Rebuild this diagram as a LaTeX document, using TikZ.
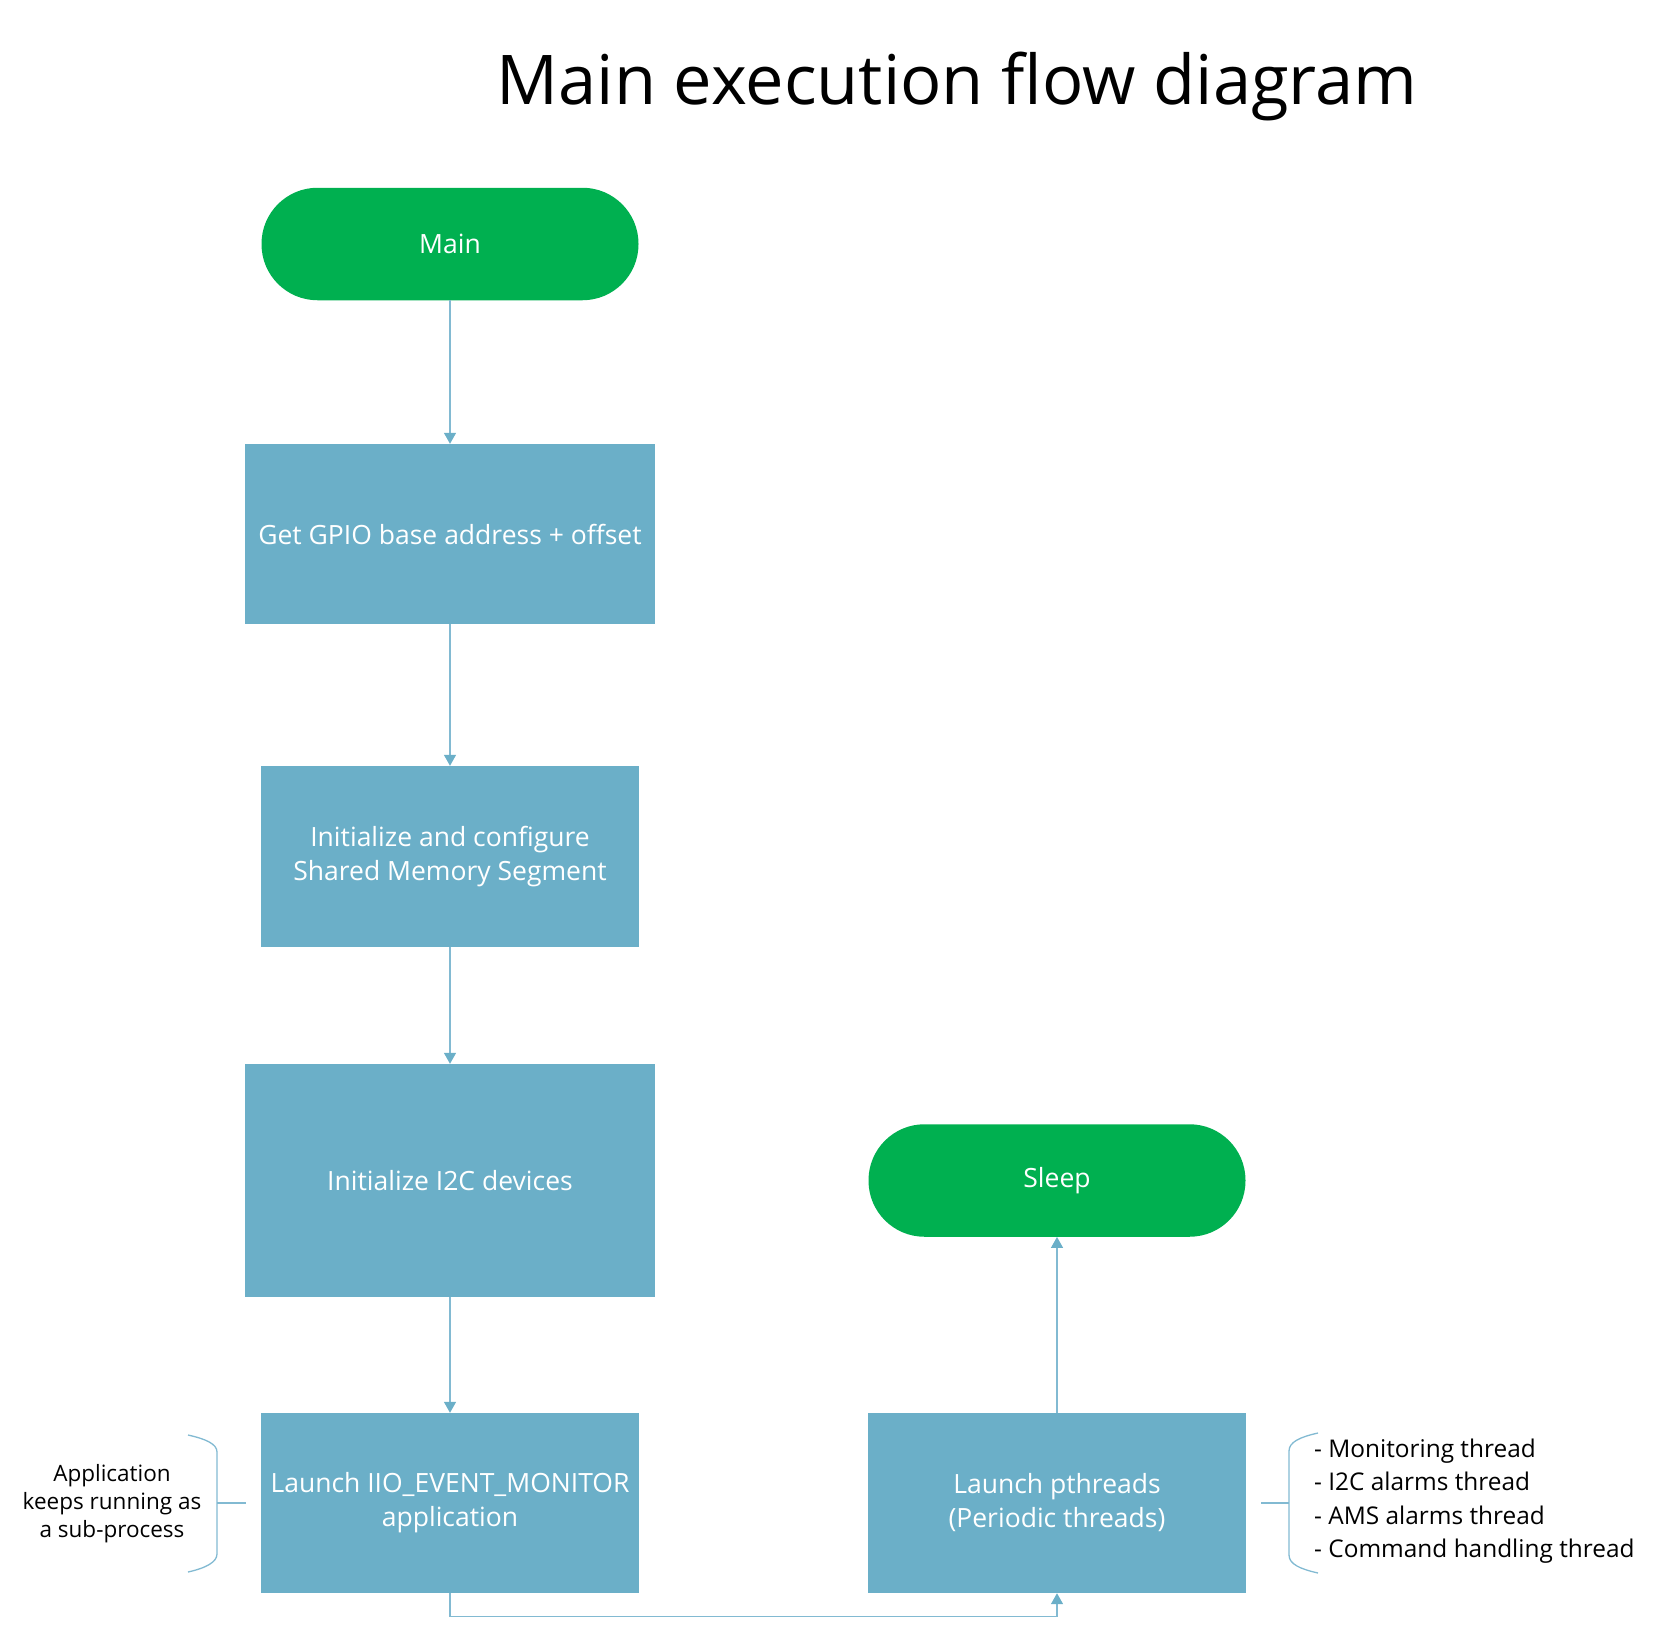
\documentclass[tikz,border=0pt]{standalone}
\usepackage{fontspec}
\setmainfont{Open Sans}
\usetikzlibrary{arrows.meta}
\definecolor{termgreen}{RGB}{0,176,80}
\definecolor{boxblue}{RGB}{107,175,200}
\definecolor{linecol}{RGB}{130,186,210}
\begin{document}
\begin{tikzpicture}[x=1pt,y=-1pt,
  proc/.style={rectangle, fill=boxblue, text=white, font=\fontsize{26.5}{34}\selectfont, align=center, inner sep=0pt},
  term/.style={rectangle, rounded corners=56pt, fill=termgreen, text=white, font=\fontsize{26.5}{34}\selectfont, minimum width=377pt, minimum height=112.5pt, inner sep=0pt},
  conn/.style={draw=linecol, line width=1.4pt, -{Triangle[length=11pt,width=12pt,color=boxblue]}},
  brace/.style={draw=linecol, line width=1.3pt},
  note/.style={text=black, inner sep=0pt}]
\useasboundingbox (0,0) rectangle (1657,1627);
\node[font=\fontsize{68.6}{80}\selectfont, inner sep=0pt, anchor=base] (title) at (957,105) {Main execution flow diagram};
\node[term] (main) at (450,244) {Main};
\node[proc, minimum width=410pt, minimum height=180pt] (gpio) at (450,534) {Get GPIO base address + offset};
\node[proc, minimum width=378pt, minimum height=181pt] (shm) at (450,856.5) {Initialize and configure\\Shared Memory Segment};
\node[proc, minimum width=410pt, minimum height=233pt] (i2c) at (450,1180.5) {Initialize I2C devices};
\node[proc, minimum width=378pt, minimum height=180pt] (iio) at (450,1503) {Launch IIO\_EVENT\_MONITOR\\application};
\node[proc, minimum width=378pt, minimum height=180pt] (pth) at (1057,1503) {Launch pthreads\\(Periodic threads)};
\node[term] (sleep) at (1057,1180.5) {Sleep};
\draw[conn] (main) -- (gpio);
\draw[conn] (gpio) -- (shm);
\draw[conn] (shm) -- (i2c);
\draw[conn] (i2c) -- (iio);
\draw[conn] (pth) -- (sleep);
\draw[conn] (iio.south) -- ++(0,23) -| (pth.south);
% left brace
\coordinate (lbt) at (246,1503);
\draw[brace] (188,1435) .. controls (206,1439) and (217,1444) .. (217,1452) -- (217,1554) .. controls (217,1562) and (206,1568) .. (188,1572);
\draw[brace] (217,1503) -- (lbt);
\node[note, align=center, font=\fontsize{22.5}{28}\selectfont] (applbl) at (112,1504) {Application\\keeps running as\\a sub-process};
% right brace
\coordinate (rbt) at (1261,1503);
\draw[brace] (1318,1433) .. controls (1300,1437) and (1289,1442) .. (1289,1451) -- (1289,1555) .. controls (1289,1564) and (1300,1569) .. (1318,1573);
\draw[brace] (1289,1503) -- (rbt);
\node[note, align=left, anchor=west, font=\fontsize{24.4}{33.3}\selectfont] (thr) at (1314,1501) {- Monitoring thread\\- I2C alarms thread\\- AMS alarms thread\\- Command handling thread};
\end{tikzpicture}
\end{document}
